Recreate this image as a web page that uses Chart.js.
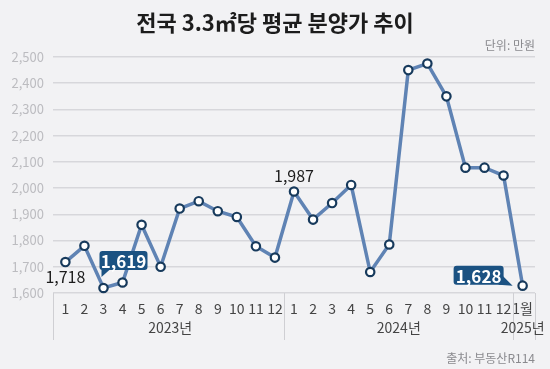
<!DOCTYPE html>
<html><head><meta charset="utf-8">
<script src="https://cdn.jsdelivr.net/npm/chart.js@4/dist/chart.umd.min.js"></script>
<style>
html,body{margin:0;padding:0;background:#f2f2f4;}
#wrap{width:550px;height:369px;position:relative;}
</style></head>
<body><div id="wrap"><canvas id="c" width="550" height="369"></canvas></div>
<script>
const monthLabels = ['1','2','3','4','5','6','7','8','9','10','11','12','1','2','3','4','5','6','7','8','9','10','11','12','1월'];
const yearLabels = ['2023년','2024년','2025년'];
const yearSpans = [[0,11],[12,23],[24,24]];
const prices = [1718,1780,1619,1640,1860,1700,1922,1950,1912,1890,1778,1735,
                1987,1880,1943,2012,1680,1785,2450,2475,2350,2078,2078,2048,
                1628];
const yTicks = [1600,1700,1800,1900,2000,2100,2200,2300,2400,2500];
const plainLabels = [0, 12];   // indices with plain value labels
const calloutLabels = [2, 24]; // indices with boxed labels
const titleText = '전국 3.3㎡당 평균 분양가 추이';
const unitText = '단위: 만원';
const sourceText = '출처: 부동산R114';

const KFONT = "'Noto Sans CJK KR', 'Noto Sans', sans-serif";
const fmt = v => v.toLocaleString('en-US');

const deco = {
  id: 'deco',
  beforeDraw(chart) {
    const ctx = chart.ctx;
    ctx.save();
    ctx.fillStyle = '#f2f2f4';
    ctx.fillRect(0, 0, chart.width, chart.height);
    ctx.restore();
  },
  afterDraw(chart) {
    const ctx = chart.ctx;
    const xs = chart.scales.x, ys = chart.scales.y;
    const area = chart.chartArea;
    ctx.save();
    // title
    ctx.fillStyle = '#1c1c1c';
    ctx.font = "bold 22px " + KFONT;
    ctx.textAlign = 'center';
    ctx.textBaseline = 'middle';
    ctx.fillText(titleText, 275, 23);
    // unit
    ctx.fillStyle = '#8a8a8e';
    ctx.font = "12px " + KFONT;
    ctx.textAlign = 'right';
    ctx.fillText(unitText, area.right, 45);
    // source
    ctx.fillText(sourceText, area.right, 358);
    // separators
    ctx.strokeStyle = '#cfcfd3';
    ctx.lineWidth = 1;
    const seps = [area.left, xs.getPixelForValue(11.5), xs.getPixelForValue(23.5), area.right];
    seps.forEach(x => {
      ctx.beginPath();
      ctx.moveTo(Math.round(x) + 0.5, area.bottom);
      ctx.lineTo(Math.round(x) + 0.5, 340);
      ctx.stroke();
    });
    // year labels
    ctx.fillStyle = '#444';
    ctx.font = "14px " + KFONT;
    ctx.textAlign = 'center';
    yearSpans.forEach((s, i) => {
      const cx = (xs.getPixelForValue(s[0]) + xs.getPixelForValue(s[1])) / 2;
      ctx.fillText(yearLabels[i], cx, 328);
    });
    // plain value labels
    ctx.fillStyle = '#1c1c1c';
    ctx.font = "16px " + KFONT;
    plainLabels.forEach((idx, k) => {
      const px = xs.getPixelForValue(idx), py = ys.getPixelForValue(prices[idx]);
      if (k === 0) ctx.fillText(fmt(prices[idx]), px, py + 15);
      else ctx.fillText(fmt(prices[idx]), px, py - 16);
    });
    // callouts
    const navy = '#1b5282';
    calloutLabels.forEach((idx, k) => {
      const px = xs.getPixelForValue(idx), py = ys.getPixelForValue(prices[idx]);
      let bx, by, bw = 48, bh = 19;
      ctx.fillStyle = navy;
      if (k === 0) {
        bx = px - 4; by = py - 37;
        ctx.beginPath();
        ctx.roundRect(bx, by, bw, bh, 3);
        ctx.fill();
        ctx.beginPath();
        ctx.moveTo(bx + 2, by + bh - 1);
        ctx.lineTo(bx + 11, by + bh - 1);
        ctx.lineTo(bx + 2, by + bh + 7);
        ctx.closePath();
        ctx.fill();
      } else {
        bw = 50; bx = px - 69; by = py - 20;
        ctx.beginPath();
        ctx.roundRect(bx, by, bw, bh, 3);
        ctx.fill();
        ctx.beginPath();
        ctx.moveTo(bx + bw - 5, by + 6);
        ctx.lineTo(bx + bw - 5, by + bh);
        ctx.lineTo(bx + bw + 9, by + bh + 1);
        ctx.closePath();
        ctx.fill();
      }
      ctx.fillStyle = '#ffffff';
      ctx.font = "bold 17px " + KFONT;
      ctx.textAlign = 'center';
      ctx.textBaseline = 'middle';
      ctx.fillText(fmt(prices[idx]), bx + bw / 2, by + bh / 2 + 1);
    });
    ctx.restore();
  }
};

new Chart(document.getElementById('c'), {
  type: 'line',
  data: {
    datasets: [{
      data: prices.map((v, i) => ({x: i, y: v})),
      borderColor: '#5f83b4',
      borderWidth: 3.5,
      tension: 0,
      pointRadius: 4.2,
      pointBorderWidth: 2.2,
      pointBackgroundColor: '#ffffff',
      pointBorderColor: '#173a5c',
      clip: false
    }]
  },
  options: {
    responsive: false,
    animation: false,
    events: [],
    layout: {padding: {top: 57, right: 15, left: 0, bottom: 0}},
    plugins: {legend: {display: false}, tooltip: {enabled: false}, title: {display: false}},
    scales: {
      x: {
        type: 'linear',
        min: -0.65, max: 24.65,
        afterBuildTicks: s => { s.ticks = monthLabels.map((_, i) => ({value: i})); },
        afterFit: s => { s.height = 76; },
        grid: {display: false, drawTicks: false},
        border: {display: false},
        ticks: {
          autoSkip: false, maxRotation: 0, padding: 7,
          color: '#444', font: {size: 14, family: KFONT},
          callback: (v) => monthLabels[v]
        }
      },
      y: {
        min: 1600, max: 2500,
        afterBuildTicks: s => { s.ticks = yTicks.map(v => ({value: v})); },
        afterFit: s => { s.width = 53; },
        grid: {color: '#d7d7db', lineWidth: 1.5, drawTicks: false},
        border: {display: false},
        ticks: {
          padding: 9, color: '#bcbcc0', font: {size: 13, family: KFONT},
          callback: v => fmt(v)
        }
      }
    }
  },
  plugins: [deco]
});
</script>
</body></html>
